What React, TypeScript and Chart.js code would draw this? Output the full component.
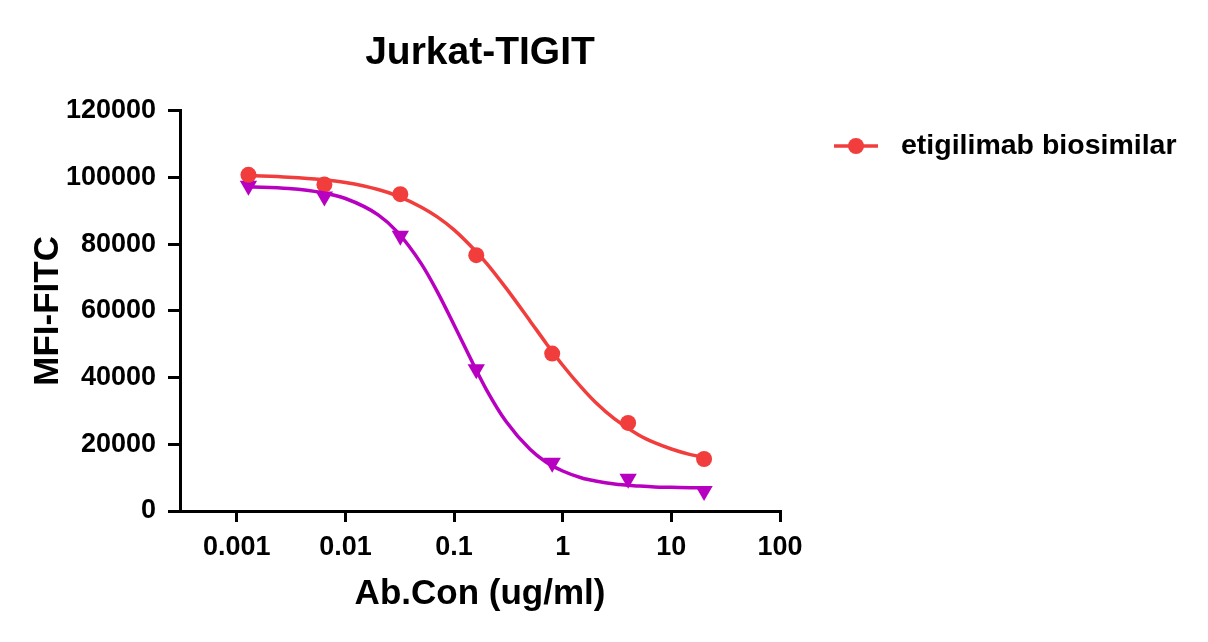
import React, { useEffect, useRef } from "react";
import { Chart, registerables } from "chart.js";

Chart.register(...registerables);

const TITLE = "Jurkat-TIGIT";
const X_TITLE = "Ab.Con (ug/ml)";
const Y_TITLE = "MFI-FITC";
const SERIES_RED_LABEL = "etigilimab biosimilar";
const SERIES_PURPLE_LABEL = "control";

// measured concentrations (ug/ml)
const CONC = [0.00128, 0.0064, 0.032, 0.16, 0.8, 4, 20];
const RED_POINTS = [100800, 97900, 95000, 76700, 47200, 26400, 15600];
const PURPLE_POINTS = [97500, 94300, 82500, 42500, 14500, 9700, 6000];

// fitted curve readings
const CURVE_X = [0.00128, 0.003, 0.006, 0.01, 0.02, 0.03, 0.05, 0.07, 0.1, 0.15, 0.2, 0.3, 0.5, 0.7, 1, 1.5, 2, 3, 5, 7, 10, 15, 20];
const RED_CURVE = [100600, 100100, 99400, 98500, 96400, 94500, 91100, 88200, 84300, 78700, 74200, 66900, 57000, 50400, 43700, 36900, 32600, 27600, 22800, 20500, 18600, 16900, 16100];
const PURPLE_CURVE = [97200, 96700, 95500, 93700, 88800, 83700, 74100, 65800, 55800, 44100, 36200, 26900, 18500, 14700, 12000, 9900, 9000, 8100, 7500, 7200, 7100, 7000, 6900];

const X_TICKS = [0.001, 0.01, 0.1, 1, 10, 100];
const X_TICK_LABELS = ["0.001", "0.01", "0.1", "1", "10", "100"];
const X_MIN = 0.000316;
const X_MAX = 100;
const Y_MIN = 0;
const Y_MAX = 120000;
const Y_STEP = 20000;

const RED = "#F23D3D";
const PURPLE = "#B800C0";
const FONT = '"Liberation Sans", Arial, Helvetica, sans-serif';

const pairs = (xs: number[], ys: number[]) => xs.map((x, i) => ({ x, y: ys[i] }));

const legendPlugin = {
  id: "customLegend",
  afterDraw(chart: any) {
    const { ctx, chartArea } = chart;
    const x0 = chartArea.right + 54;
    const y0 = 146;
    ctx.save();
    ctx.strokeStyle = RED;
    ctx.lineWidth = 3.5;
    ctx.beginPath();
    ctx.moveTo(x0, y0);
    ctx.lineTo(x0 + 44, y0);
    ctx.stroke();
    ctx.fillStyle = RED;
    ctx.beginPath();
    ctx.arc(x0 + 22, y0, 8, 0, Math.PI * 2);
    ctx.fill();
    ctx.fillStyle = "#000";
    ctx.font = `bold 28.5px ${FONT}`;
    ctx.textBaseline = "middle";
    ctx.textAlign = "left";
    ctx.fillText(SERIES_RED_LABEL, x0 + 67, y0);
    ctx.restore();
  },
};

export default function App() {
  const canvasRef = useRef<HTMLCanvasElement | null>(null);

  useEffect(() => {
    if (!canvasRef.current) return;
    const chart = new Chart(canvasRef.current, {
      type: "line",
      data: {
        datasets: [
          {
            label: SERIES_RED_LABEL + " fit",
            data: pairs(CURVE_X, RED_CURVE),
            borderColor: RED,
            borderWidth: 3.5,
            pointRadius: 0,
            cubicInterpolationMode: "monotone",
            fill: false,
          },
          {
            label: SERIES_PURPLE_LABEL + " fit",
            data: pairs(CURVE_X, PURPLE_CURVE),
            borderColor: PURPLE,
            borderWidth: 3.5,
            pointRadius: 0,
            cubicInterpolationMode: "monotone",
            fill: false,
          },
          {
            label: SERIES_RED_LABEL,
            data: pairs(CONC, RED_POINTS),
            showLine: false,
            pointStyle: "circle",
            pointRadius: 8,
            backgroundColor: RED,
            borderColor: RED,
            borderWidth: 0,
          },
          {
            label: SERIES_PURPLE_LABEL,
            data: pairs(CONC, PURPLE_POINTS),
            showLine: false,
            pointStyle: "triangle",
            rotation: 180,
            pointRadius: 10,
            backgroundColor: PURPLE,
            borderColor: PURPLE,
            borderWidth: 0,
          },
        ],
      },
      options: {
        responsive: false,
        animation: false,
        devicePixelRatio: 1,
        layout: { padding: { left: 0, right: 428, top: 0, bottom: 0 } },
        plugins: {
          legend: { display: false },
          tooltip: { enabled: false },
          title: {
            display: true,
            text: TITLE,
            fullSize: false,
            color: "#000",
            font: { family: FONT, size: 39, weight: "bold" },
            padding: { top: 30, bottom: 34 },
          },
        },
        scales: {
          x: {
            type: "logarithmic",
            position: "bottom",
            min: X_MIN,
            max: X_MAX,
            afterBuildTicks: (scale: any) => {
              scale.ticks = X_TICKS.map((v) => ({ value: v }));
            },
            afterFit: (scale: any) => {
              scale.height = 131;
            },
            ticks: {
              autoSkip: false,
              maxRotation: 0,
              padding: 9,
              color: "#000",
              font: { family: FONT, size: 27, weight: "bold" },
              callback: (_v: any, i: number) => X_TICK_LABELS[i],
            },
            grid: {
              display: true,
              drawOnChartArea: false,
              drawTicks: true,
              tickLength: 11,
              lineWidth: 3,
              color: "#000",
            },
            border: { display: true, width: 3, color: "#000" },
            title: {
              display: true,
              text: X_TITLE,
              color: "#000",
              font: { family: FONT, size: 35, weight: "bold" },
              padding: { top: 0, bottom: 27 },
            },
          },
          y: {
            type: "linear",
            min: Y_MIN,
            max: Y_MAX,
            afterFit: (scale: any) => {
              scale.width = 180;
            },
            ticks: {
              stepSize: Y_STEP,
              padding: 12,
              color: "#000",
              font: { family: FONT, size: 27, weight: "bold" },
              callback: (v: any) => String(v),
            },
            grid: {
              display: true,
              drawOnChartArea: false,
              drawTicks: true,
              tickLength: 12,
              lineWidth: 3,
              color: "#000",
            },
            border: { display: true, width: 3, color: "#000" },
            title: {
              display: true,
              text: Y_TITLE,
              color: "#000",
              font: { family: FONT, size: 35, weight: "bold" },
              padding: { top: 27, bottom: 0 },
            },
          },
        },
      },
      plugins: [legendPlugin],
    } as any);
    return () => chart.destroy();
  }, []);

  return (
    <div style={{ position: "absolute", left: 0, top: 0, width: 1208, height: 642, background: "#fff" }}>
      <canvas ref={canvasRef} width={1208} height={642} />
    </div>
  );
}
